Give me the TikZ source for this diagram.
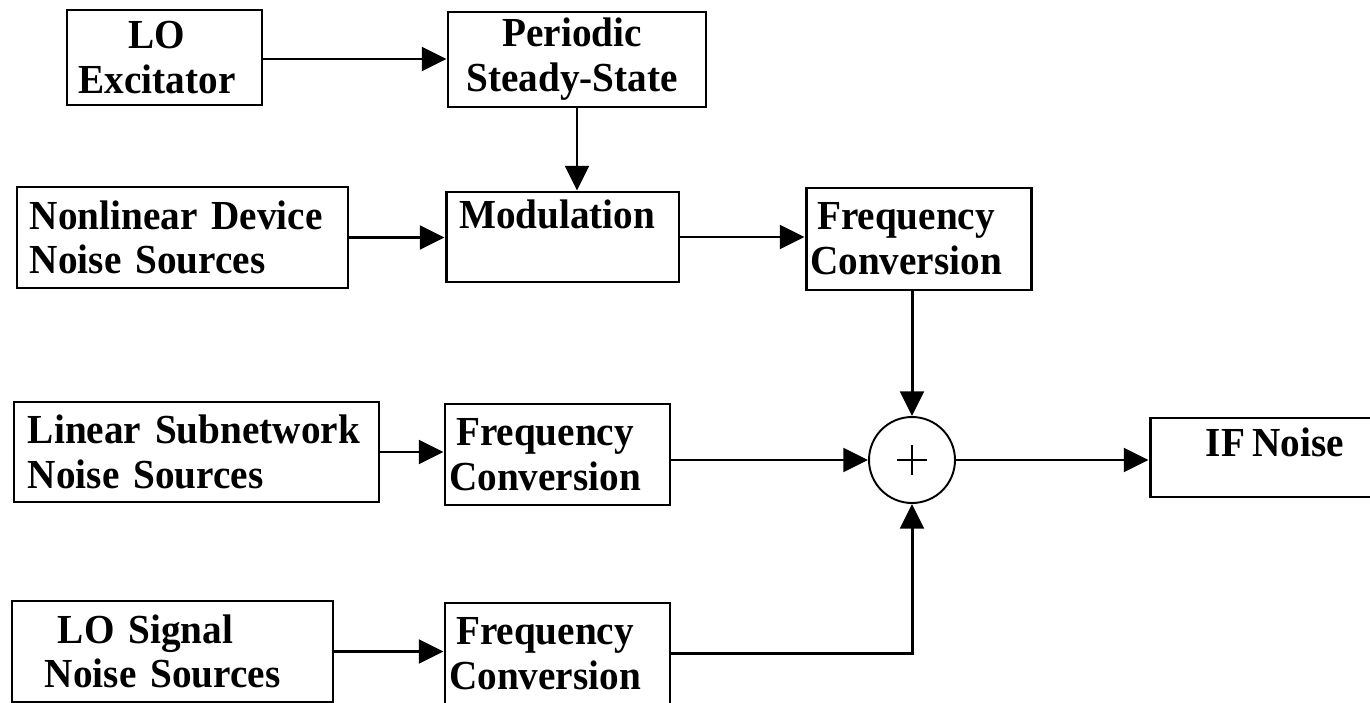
\documentclass[tikz,border=0pt]{standalone}
\usepackage{fontspec}
\setmainfont[FakeStretch=0.95, WordSpace=0.75]{Liberation Serif}
\usetikzlibrary{arrows.meta, positioning}
\tikzset{
  blk/.style={draw, line width=1.7pt, inner sep=0pt, align=center,
              font=\bfseries\fontsize{23.5}{25.5}\selectfont},
  flow/.style={-{Triangle[length=14pt, width=13.5pt]}, line width=1.7pt},
}

\begin{document}
\begin{tikzpicture}[x=0.02cm, y=-0.02cm]
    \useasboundingbox (0,0) rectangle (1370,703);
    \clip (0,0) rectangle (1370,703);
    % top row
    \node[blk, minimum width=195*0.02cm, minimum height=95*0.02cm] (lo) at (164.5,57.5) {LO\hspace*{0.3cm}\\Excitator\hspace*{0.3cm}};
    \node[blk, minimum width=258*0.02cm, minimum height=95*0.02cm] (pss) at (577,59.5) {Periodic\hspace*{0.2cm}\\Steady-State\hspace*{0.2cm}};
    % second row
    \node[blk, align=left, inner xsep=0.26cm, text width=305*0.02cm, minimum height=101*0.02cm] (nl) at (182.5,237.5) {Nonlinear Device\\Noise Sources};
    \node[blk, align=left, inner xsep=0.26cm, text width=207*0.02cm, minimum height=90*0.02cm] (mod) at (562.5,237) {Modulation\\\mbox{}};
    \node[blk, minimum width=225*0.02cm, minimum height=102*0.02cm] (fc1) at (918.5,239) {Frequency\hspace*{0.5cm}\\Conversion\hspace*{0.5cm}};
    % third row
    \node[blk, align=left, inner xsep=0.28cm, text width=337*0.02cm, minimum height=100*0.02cm] (ln) at (196.5,452) {Linear Subnetwork\\Noise Sources};
    \node[blk, minimum width=225*0.02cm, minimum height=101*0.02cm] (fc2) at (557.5,454.5) {Frequency\hspace*{0.5cm}\\Conversion\hspace*{0.5cm}};
    \node[draw, circle, line width=1.1pt, minimum size=86*0.02cm] (sum) at (912,460) {};
    \draw[line width=1pt] ([xshift=-0.3cm]sum.center) -- ([xshift=0.3cm]sum.center);
    \draw[line width=1pt] ([yshift=-0.3cm]sum.center) -- ([yshift=0.3cm]sum.center);
    \node[blk, minimum width=250*0.02cm, minimum height=79*0.02cm] (ifn) at (1275,457.5) {IF Noise\\[-0.3cm]\mbox{}};
    % bottom row
    \node[blk, align=left, inner xsep=0.66cm, text width=255*0.02cm, minimum height=101*0.02cm] (los) at (172.5,651.5) {\hspace*{0.26cm}LO Signal\\Noise Sources};
    \node[blk, minimum width=225*0.02cm, minimum height=101*0.02cm] (fc3) at (557.5,653.5) {Frequency\hspace*{0.5cm}\\Conversion\hspace*{0.5cm}};
    % connections
    \draw[flow] ([yshift=-0.03cm]lo.east) -- ([yshift=-0.03cm]lo.east -| pss.west);
    \draw[flow] (pss.south) -- (pss.south |- mod.north);
    \draw[flow] (nl.east) -- (nl.east -| mod.west);
    \draw[flow] (mod.east) -- (mod.east -| fc1.west);
    \draw[flow] (fc1.south -| sum.north) -- (sum.north);
    \draw[flow] (ln.east) -- (ln.east -| fc2.west);
    \draw[flow] (fc2.east |- sum.west) -- (sum.west);
    \draw[flow] (sum.east) -- (sum.east -| ifn.west);
    \draw[flow] (los.east) -- (los.east -| fc3.west);
    \draw[flow] (fc3.east) -| (sum.south);
\end{tikzpicture}
\end{document}
